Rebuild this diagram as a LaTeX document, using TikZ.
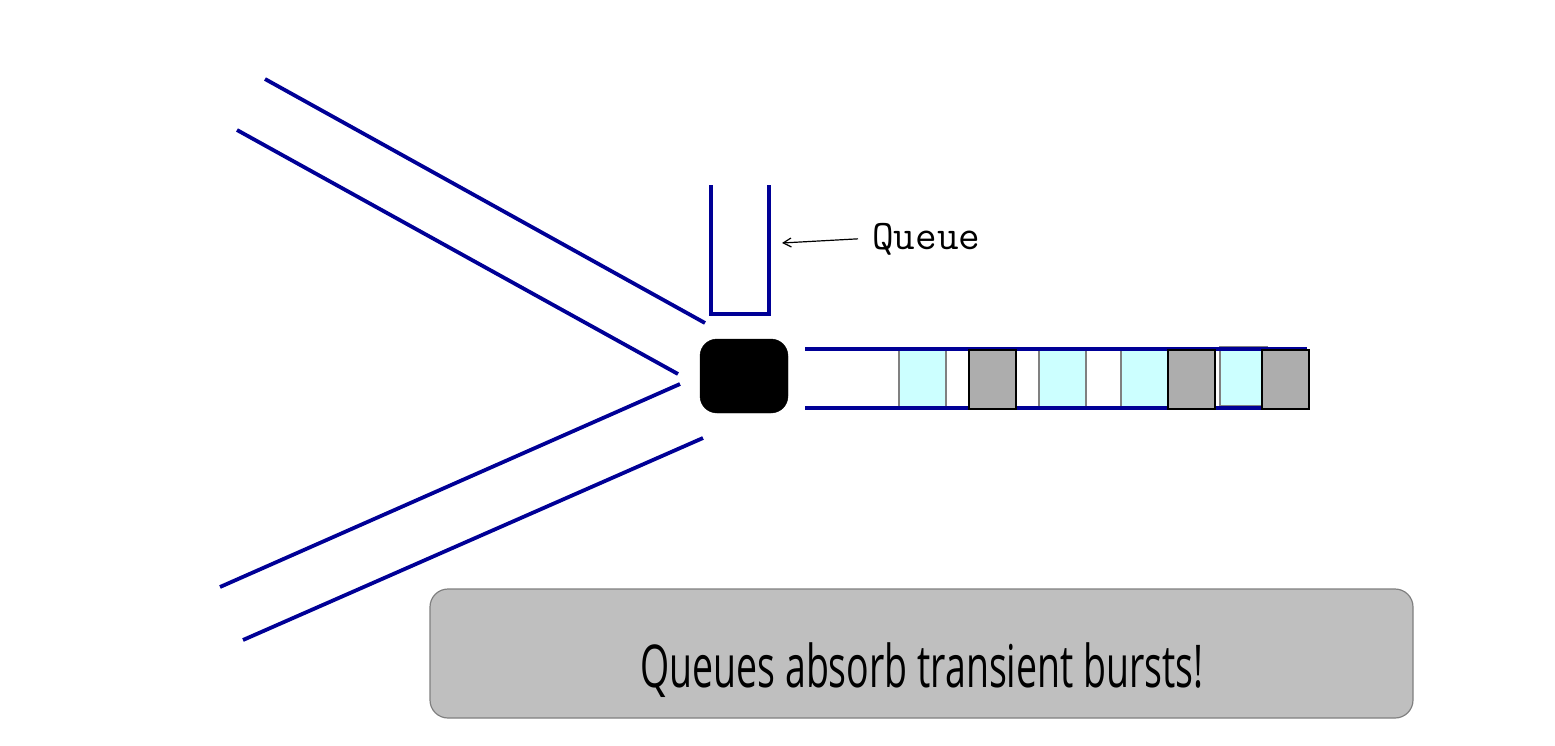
\documentclass[tikz,border=0pt]{standalone}
\usepackage{xcolor}
\usepackage{fontspec}
\usepackage{tikz}
\usetikzlibrary{arrows.meta}
\usetikzlibrary{calc}
\usetikzlibrary{positioning}
\newfontfamily\notefont{Open Sans}
\definecolor{linkblue}{RGB}{0,0,150}
\definecolor{pktcyan}{RGB}{204,255,255}
\definecolor{pktgray}{RGB}{173,173,173}
\definecolor{notegray}{RGB}{191,191,191}
\tikzstyle{link} = [draw=linkblue, line width=3.8pt]
\tikzstyle{router} = [draw=black, fill=black,
	rounded corners=17pt,
	minimum width = 88pt,
	minimum height = 74pt]
\tikzstyle{pktA} = [draw=gray, fill=pktcyan, line width=1.5pt,
	minimum width = 47pt,
	minimum height = 59pt, inner sep=0pt]
\tikzstyle{pktB} = [draw=black, fill=pktgray, line width=1.8pt,
	minimum width = 47pt,
	minimum height = 59pt, inner sep=0pt]
\tikzstyle{notebox} = [draw=gray, fill=notegray, line width=1.2pt,
	rounded corners=18pt,
	minimum width = 983pt,
	minimum height = 129pt]
\tikzstyle{arrow} =[-{Straight Barb[length=8pt, width=9pt]}, line width=1.2pt]

\begin{document}
\begin{tikzpicture}[x=1pt, y=-1pt]
			\useasboundingbox (0,0) rectangle (1555,745);
			
			%входные линии
			\coordinate (a1) at (265,79);  \coordinate (a2) at (705,323);
			\coordinate (b1) at (237,130); \coordinate (b2) at (678,374);
			\coordinate (c1) at (680,384); \coordinate (c2) at (220,587);
			\coordinate (d1) at (703,438); \coordinate (d2) at (243,640);
			\draw [link] (a1) -- (a2);
			\draw [link] (b1) -- (b2);
			\draw [link] (c1) -- (c2);
			\draw [link] (d1) -- (d2);
			
			\node (sw) [router] at (744,376) {};
			
			%очередь
			\coordinate (qL) at (711,185);
			\coordinate (qR) at (769,185);
			\draw [link] (qL) |- (740,314) -| (qR);
			\node (qlab) [anchor=base west, inner sep=0pt] at (872,249) {\ttfamily\fontsize{42}{46}\selectfont Queue};
			\coordinate (qtip) at (782,243);
			\draw [arrow] ($(qlab.west) + (-14pt, 0pt)$) -- (qtip);
			
			%выходная линия
			\foreach \x in {898, 1038, 1120}
				\node [pktA, anchor=north west] at (\x,349) {};
			\node (last) [pktA, anchor=north west] at (1219,346) {};
			\coordinate (o1) at (805,349); \coordinate (o2) at (1307,349);
			\coordinate (o3) at (805,408); \coordinate (o4) at (1307,408);
			\draw [link] (o1) -- (o2);
			\draw [link] (o3) -- (o4);
			\foreach \x in {968, 1167, 1261}
				\node [pktB, anchor=north west] at (\x,349) {};
			
			\node (note) [notebox] at (921.5,653.5) {};
			\node (msg) [anchor=base, inner sep=0pt] at (922,687) {\scalebox{0.635}[1]{\notefont\fontsize{59}{64}\selectfont Queues absorb transient bursts!}};
		\end{tikzpicture}
\end{document}
